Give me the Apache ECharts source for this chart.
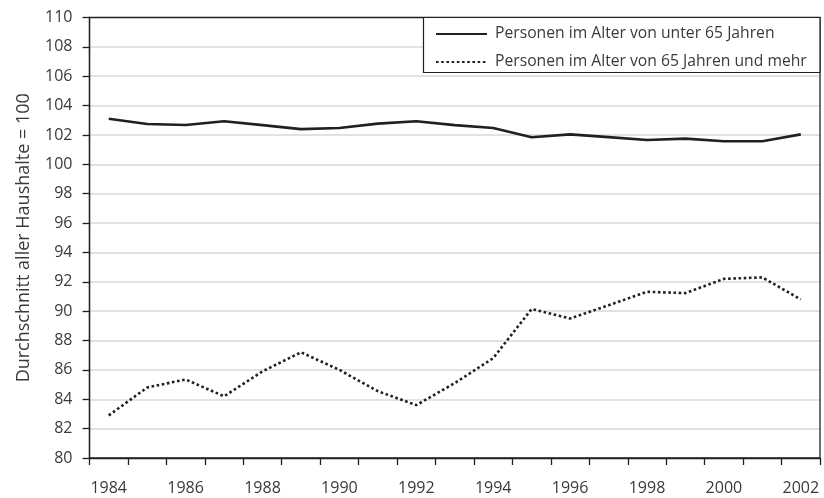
<!DOCTYPE html>
<html>
<head>
<meta charset="utf-8">
<script src="https://cdn.jsdelivr.net/npm/echarts@6/dist/echarts.min.js"></script>
<style>html,body{margin:0;padding:0;background:#fff;}#c{width:824px;height:498px;}</style>
</head>
<body>
<div id="c"></div>
<script>
const years = ['1984','1985','1986','1987','1988','1989','1990','1991','1992','1993','1994','1995','1996','1997','1998','1999','2000','2001','2002'];
const under65 = [103.1,102.75,102.68,102.93,102.67,102.4,102.47,102.77,102.93,102.67,102.47,101.84,102.04,101.85,101.66,101.75,101.57,101.57,102.04];
const over65 = [82.9,84.8,85.35,84.2,85.9,87.2,86.0,84.55,83.6,85.1,86.8,90.15,89.5,90.4,91.32,91.23,92.2,92.3,90.8];
const seriesNames = ['Personen im Alter von unter 65 Jahren','Personen im Alter von 65 Jahren und mehr'];
const yTitle = 'Durchschnitt aller Haushalte = 100';

const FONT = 'Open Sans';
const TXT = '#3a3a3a';
const AX = '#231f20';
const chart = echarts.init(document.getElementById('c'), null, {renderer:'canvas'});
chart.setOption({
  animation:false,
  backgroundColor:'#fff',
  grid:{left:89.5,right:4,top:17.5,bottom:40,show:true,borderColor:AX,borderWidth:1.3,backgroundColor:'transparent',z:3},
  graphic:[{type:'rect',z:100,shape:{x:423.5,y:17.5,width:396.5,height:55},style:{fill:'#fff',stroke:AX,lineWidth:1.2}}],
  legend:{
    show:true,orient:'vertical',left:430,top:21,z:200,
    itemWidth:51,itemHeight:16,itemGap:12,
    itemStyle:{opacity:0},
    textStyle:{fontFamily:FONT,fontSize:15.7,color:TXT,lineHeight:16,padding:[0,0,0,3]},
    data:seriesNames
  },
  xAxis:{
    type:'category',data:years,boundaryGap:true,
    axisLine:{show:true,lineStyle:{color:AX,width:1.3}},
    axisTick:{show:true,interval:0,length:7,lineStyle:{color:AX,width:1.3}},
    axisLabel:{interval:1,margin:22,fontFamily:FONT,fontSize:16,color:TXT},
    splitLine:{show:false}
  },
  yAxis:{
    type:'value',min:80,max:110,interval:2,
    name:yTitle,nameLocation:'middle',nameGap:57,nameRotate:90,
    nameTextStyle:{fontFamily:FONT,fontSize:18,color:TXT},
    axisLine:{show:true,lineStyle:{color:AX,width:1.3}},
    axisTick:{show:true,length:7,lineStyle:{color:AX,width:1.3}},
    axisLabel:{margin:17,fontFamily:FONT,fontSize:16,color:TXT},
    splitLine:{show:true,showMinLine:false,showMaxLine:false,lineStyle:{color:'#d9d9d9',width:1.5}}
  },
  series:[
    {name:seriesNames[0],type:'line',data:under65,symbol:'none',lineStyle:{color:AX,width:2.6,type:'solid'},itemStyle:{color:AX}},
    {name:seriesNames[1],type:'line',data:over65,symbol:'none',lineStyle:{color:AX,width:2.6,type:[2.6,2.6]},itemStyle:{color:AX}}
  ]
});
</script>
</body>
</html>
